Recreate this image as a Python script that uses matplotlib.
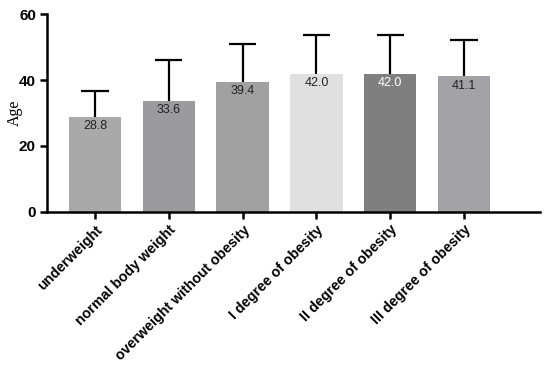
import matplotlib
matplotlib.use("Agg")
import matplotlib.pyplot as plt
import numpy as np

categories = ["underweight", "normal body weight", "overweight without obesity",
              "I degree of obesity", "II degree of obesity", "III degree of obesity"]
means = [28.8, 33.6, 39.4, 42.0, 42.0, 41.1]
sds = [7.9, 12.5, 11.6, 11.7, 11.7, 11.2]
colors = ["#a9a9a9", "#9b9b9f", "#a1a1a1", "#e0e0e0", "#7f7f7f", "#a3a3a7"]
label_colors = ["#222222", "#222222", "#222222", "#222222", "#ffffff", "#222222"]
yticks = [0, 20, 40, 60]

plt.rcParams['font.family'] = ['Liberation Sans', 'DejaVu Sans']

fig = plt.figure(figsize=(5.5, 3.68), dpi=100)
ax = fig.add_axes([0.0855, 0.425, 0.8965, 0.536])

x = np.arange(len(categories))
means_a = np.array(means)
tops = means_a + np.array(sds)
ax.bar(x, means, width=0.71, color=colors, zorder=2)
ax.vlines(x, means_a, tops, color='black', linewidth=1.6, zorder=3)
ax.hlines(tops, x - 0.185, x + 0.185, color='black', linewidth=1.6, zorder=3)
for xi, m, c in zip(x, means, label_colors):
    ax.text(xi, m - 1.0, f"{m:.1f}", ha='center', va='top', fontsize=9, color=c, zorder=4)

ax.set_xlim(-0.65, 6.03)
ax.set_ylim(0, 60)
ax.set_yticks(yticks)
ax.set_xticks(x)
ax.set_xticklabels(categories, rotation=45, ha='right', rotation_mode='anchor',
                   fontsize=10.3, fontweight='bold')
for lab in ax.get_yticklabels():
    lab.set_fontweight('bold')
    lab.set_fontsize(11)
ax.set_ylabel("Age", family='Liberation Serif', fontsize=11.5)
ax.yaxis.set_label_coords(-0.05, 0.5)
ax.spines['top'].set_visible(False)
ax.spines['right'].set_visible(False)
ax.spines['left'].set_linewidth(1.8)
ax.spines['bottom'].set_linewidth(1.8)
ax.tick_params(axis='both', width=1.8, length=5, pad=3)

fig.savefig("out.png", dpi=100)
